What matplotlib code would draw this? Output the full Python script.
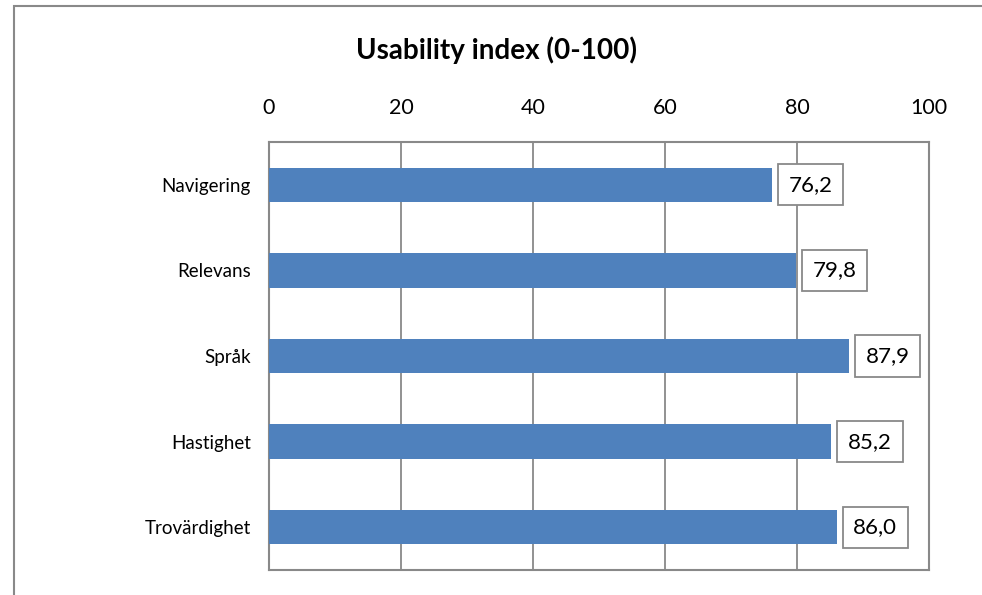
import matplotlib.pyplot as plt
from matplotlib.patches import Rectangle

categories = ['Navigering', 'Relevans', 'Språk', 'Hastighet', 'Trovärdighet']
scores = [76.2, 79.8, 87.9, 85.2, 86.0]
x_ticks = [0, 20, 40, 60, 80, 100]
title = 'Usability index (0-100)'

BAR_COLOR = '#4F81BD'
LINE_GRAY = '#898989'

plt.rcParams['font.family'] = ['Lato', 'DejaVu Sans']

fig = plt.figure(figsize=(9.82, 5.95), dpi=100)
ax = fig.add_axes([269 / 982, 1 - 570 / 595, 660 / 982, 428 / 595])

# outer chart frame (right/bottom edges fall outside the image)
fig.patches.append(Rectangle((14 / 982, -0.1), 1.2, 1.1 - 6.5 / 595,
                             transform=fig.transFigure, fill=False,
                             ec=LINE_GRAY, lw=1.5))

pos = list(range(len(categories)))
ax.barh(pos, scores, height=0.4, color=BAR_COLOR, zorder=3)

for y, v in zip(pos, scores):
    ax.annotate(f'{v:.1f}'.replace('.', ','), xy=(v, y), xytext=(12, 0),
                textcoords='offset points', ha='left', va='center',
                fontsize=16, zorder=4,
                bbox=dict(boxstyle='square,pad=0.48', fc='white',
                          ec=LINE_GRAY, lw=1.3))

ax.set_xlim(0, 100)
ax.set_ylim(len(categories) - 0.5, -0.5)
ax.set_xticks(x_ticks)
ax.set_yticks(pos)
ax.set_yticklabels(categories, fontsize=13.5)
ax.xaxis.tick_top()
ax.tick_params(axis='x', length=0, pad=17, labelsize=15.5)
ax.tick_params(axis='y', length=0, pad=13)
ax.grid(axis='x', color=LINE_GRAY, lw=1.3, zorder=0)
for s in ax.spines.values():
    s.set_color(LINE_GRAY)
    s.set_linewidth(1.5)

fig.text(497 / 982, 1 - 50 / 595, title, ha='center', va='center',
         fontsize=20, fontweight='bold')

fig.savefig('out.png', dpi=100)
